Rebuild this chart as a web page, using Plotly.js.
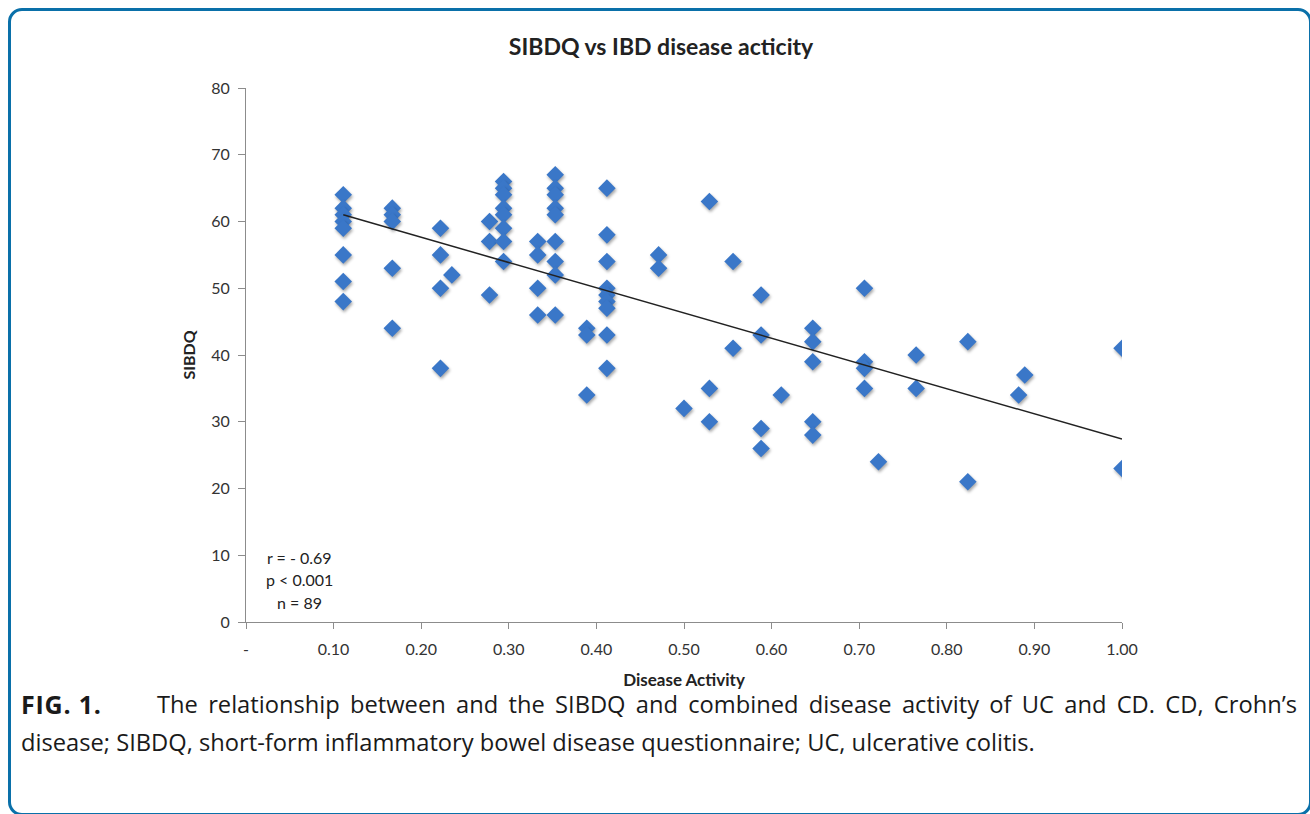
<!DOCTYPE html>
<html>
<head>
<meta charset="utf-8">
<script src="https://cdn.plot.ly/plotly-3.0.1.min.js"></script>
<style>
  html, body { margin: 0; padding: 0; background: #fff; overflow: hidden; }
  #chart { position: absolute; left: 0; top: 0; width: 1310px; height: 814px; }
  #frame { position: absolute; left: 8px; top: 8px; width: 1304px; height: 808px;
           border: 3.5px solid #0a70a9; border-radius: 14px; pointer-events: none; box-sizing: border-box; }
  #caption { position: absolute; left: 21px; top: 685px; width: 1276px;
             font-family: "Open Sans", sans-serif; font-size: 23.7px; line-height: 38px; color: #1a1a1a; }
  #caption .l1 { display: flex; white-space: nowrap; }
  #caption .l1 b { display: inline-block; width: 136px; flex: none; font-size: 25px; letter-spacing: 0.8px; }
  #caption .l1 span { flex: 1; text-align: justify; text-align-last: justify; }
  #chart .scatterlayer .trace:first-child path.point { filter: drop-shadow(1px 2px 1.5px rgba(0,0,0,0.35)); }
</style>
</head>
<body>
<div id="chart"></div>
<div id="caption"></div>
<div id="frame"></div>
<script>
// Disease activity (x) and SIBDQ score (y), one entry per visible point
const activity = [
  0.111,0.111,0.111,0.111,0.111,0.111,0.111,0.111,
  0.167,0.167,0.167,0.167,0.167,
  0.222,0.222,0.222,0.222,
  0.235,
  0.278,0.278,0.278,
  0.294,0.294,0.294,0.294,0.294,0.294,0.294,0.294,
  0.333,0.333,0.333,0.333,
  0.353,0.353,0.353,0.353,0.353,0.353,0.353,0.353,0.353,
  0.389,0.389,0.389,
  0.412,0.412,0.412,0.412,0.412,0.412,0.412,0.412,0.412,
  0.471,0.471,
  0.500,
  0.529,0.529,0.529,
  0.556,0.556,
  0.588,0.588,0.588,0.588,
  0.611,
  0.647,0.647,0.647,0.647,0.647,
  0.706,0.706,0.706,0.706,
  0.722,
  0.765,0.765,
  0.824,0.824,
  0.882,
  0.889,
  1.000,1.000
];
const sibdq = [
  64,62,61,60,59,55,51,48,
  62,61,60,53,44,
  59,55,50,38,
  52,
  60,57,49,
  66,65,64,62,61,59,57,54,
  57,55,50,46,
  67,65,64,62,61,57,54,52,46,
  44,43,34,
  65,58,54,50,49,48,47,43,38,
  55,53,
  32,
  63,35,30,
  54,41,
  49,43,29,26,
  34,
  44,42,39,30,28,
  50,39,38,35,
  24,
  40,35,
  42,21,
  34,
  37,
  41,23
];
// Linear trendline endpoints
const trendX = [0.111, 1.0];
const trendY = [61.0, 27.4];

const xTickVals = [0,0.1,0.2,0.3,0.4,0.5,0.6,0.7,0.8,0.9,1.0];
const xTickText = ['-','0.10','0.20','0.30','0.40','0.50','0.60','0.70','0.80','0.90','1.00'];
const statLines = ['r = - 0.69','p < 0.001','n = 89'];
const captionLabel = 'FIG. 1.';
const captionLine1 = 'The relationship between and the SIBDQ and combined disease activity of UC and CD. CD, Crohn\u2019s';
const captionLine2 = 'disease; SIBDQ, short-form inflammatory bowel disease questionnaire; UC, ulcerative colitis.';

// caption as real HTML text (justified first line like the journal layout)
const cap = document.getElementById('caption');
const l1 = document.createElement('div'); l1.className = 'l1';
const lb = document.createElement('b'); lb.textContent = captionLabel;
const ls = document.createElement('span'); ls.textContent = captionLine1;
l1.appendChild(lb); l1.appendChild(ls);
const l2 = document.createElement('div'); l2.textContent = captionLine2;
cap.appendChild(l1); cap.appendChild(l2);

const chartFont = 'Lato, "Open Sans", sans-serif';
const axisGray = '#8c8c8c';

const traces = [
  {
    x: activity, y: sibdq, type: 'scatter', mode: 'markers',
    marker: { symbol: 'diamond', size: 13.5, color: '#3a77c8', line: { width: 0 } },
    hoverinfo: 'x+y', showlegend: false
  },
  {
    x: trendX, y: trendY, type: 'scatter', mode: 'lines',
    line: { color: '#222222', width: 1.5 }, hoverinfo: 'skip', showlegend: false
  }
];

const annotations = [];
const statY = [0.1217, 0.0787, 0.0356];
statLines.forEach((t, i) => annotations.push({
  xref: 'paper', yref: 'paper', x: 0.0616, y: statY[i], xanchor: 'center', yanchor: 'middle',
  text: t, showarrow: false, font: { family: chartFont, size: 16, color: '#222' }
}));

const layout = {
  width: 1310, height: 814,
  margin: { l: 246, r: 188, t: 88, b: 192 },
  paper_bgcolor: 'rgba(0,0,0,0)', plot_bgcolor: '#fff',
  font: { family: chartFont, color: '#333' },
  title: {
    text: '<b>SIBDQ vs IBD disease acticity</b>',
    xref: 'container', yref: 'container', x: 0.5046, y: 1 - 47/814,
    xanchor: 'center', yanchor: 'middle',
    font: { family: chartFont, size: 23, color: '#222' }
  },
  xaxis: {
    range: [0, 1.0], tickvals: xTickVals, ticktext: xTickText,
    showgrid: false, zeroline: false, showline: true, linecolor: axisGray, linewidth: 1,
    ticks: 'outside', ticklen: 6, tickcolor: axisGray, tickwidth: 1, ticklabelstandoff: 7,
    tickfont: { family: chartFont, size: 16, color: '#333' },
    title: { text: '<b>Disease Activity</b>', font: { family: chartFont, size: 17, color: '#222' }, standoff: 16 }
  },
  yaxis: {
    range: [0, 80], dtick: 10, tick0: 0,
    showgrid: false, zeroline: false, showline: true, linecolor: axisGray, linewidth: 1,
    ticks: 'outside', ticklen: 7, tickcolor: axisGray, tickwidth: 1, ticklabelstandoff: 5,
    tickfont: { family: chartFont, size: 16, color: '#333' },
    title: { text: '<b>SIBDQ</b>', font: { family: chartFont, size: 16, color: '#222' }, standoff: 11 }
  },
  annotations: annotations
};

Plotly.newPlot('chart', traces, layout, { displayModeBar: false });
</script>
</body>
</html>
